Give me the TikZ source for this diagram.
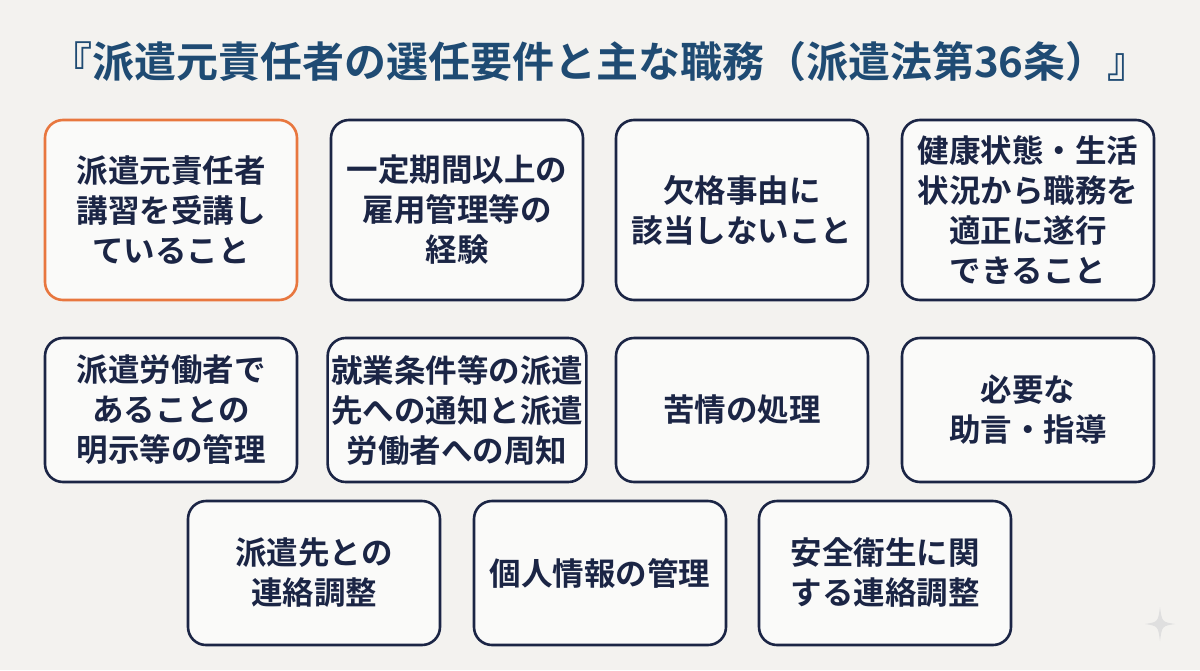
\documentclass[tikz,border=0pt]{standalone}
\usepackage{fontspec}
\setmainfont{Noto Sans CJK JP}[BoldFont={* Bold}]
\usepackage{xcolor}
\definecolor{bgpaper}{HTML}{F3F2EF}
\definecolor{navy}{HTML}{1B2545}
\definecolor{titleblue}{HTML}{1F4B73}
\definecolor{accent}{HTML}{E8773F}
\tikzset{card/.style={draw=navy, line width=2.6pt, rounded corners=18pt, fill=white!60!bgpaper,
    minimum width=252pt, minimum height=180pt, align=center, text=navy,
    font=\fontsize{31.5}{40}\selectfont\bfseries},
  lowcard/.style={card, minimum height=144pt}}

\begin{document}
\begin{tikzpicture}[x=1pt,y=-1pt]
    \path[fill=bgpaper, use as bounding box] (0, 0) rectangle (1200, 670);

    \node[text=titleblue, font=\fontsize{42}{46}\selectfont\bfseries] at (600, 62) (title) {『派遣元責任者の選任要件と主な職務（派遣法第36条）』};

    % row 1: requirements
    \node[card, draw=accent] at (171, 210) (kosyu) {派遣元責任者\\講習を受講し\\ていること};
    \node[card] at (457, 210) (keiken) {一定期間以上の\\雇用管理等の\\経験};
    \node[card] at (742, 210) (kekkaku) {欠格事由に\\該当しないこと};
    \node[card] at (1028, 210) (kenko) {健康状態・生活\\状況から職務を\\適正に遂行\\できること};

    % row 2: duties
    \node[lowcard] at (171, 410) (meiji) {派遣労働者で\\あることの\\明示等の管理};
    \node[lowcard] at (457, 410) (tsuchi) {就業条件等の派遣\\先への通知と派遣\\労働者への周知};
    \node[lowcard] at (742, 410) (kujo) {苦情の処理};
    \node[lowcard] at (1028, 410) (jogen) {必要な\\助言・指導};

    % row 3
    \node[lowcard] at (314, 573) (renraku) {派遣先との\\連絡調整};
    \node[lowcard] at (600, 573) (kojin) {個人情報の管理};
    \node[lowcard] at (885, 573) (anzen) {安全衛生に関\\する連絡調整};

    % sparkle mark
    \fill[white!75!gray] (1160, 607) .. controls (1162, 622) .. (1175, 624) .. controls (1162, 626) .. (1160, 641)
        .. controls (1158, 626) .. (1145, 624) .. controls (1158, 622) .. cycle;
\end{tikzpicture}
\end{document}
